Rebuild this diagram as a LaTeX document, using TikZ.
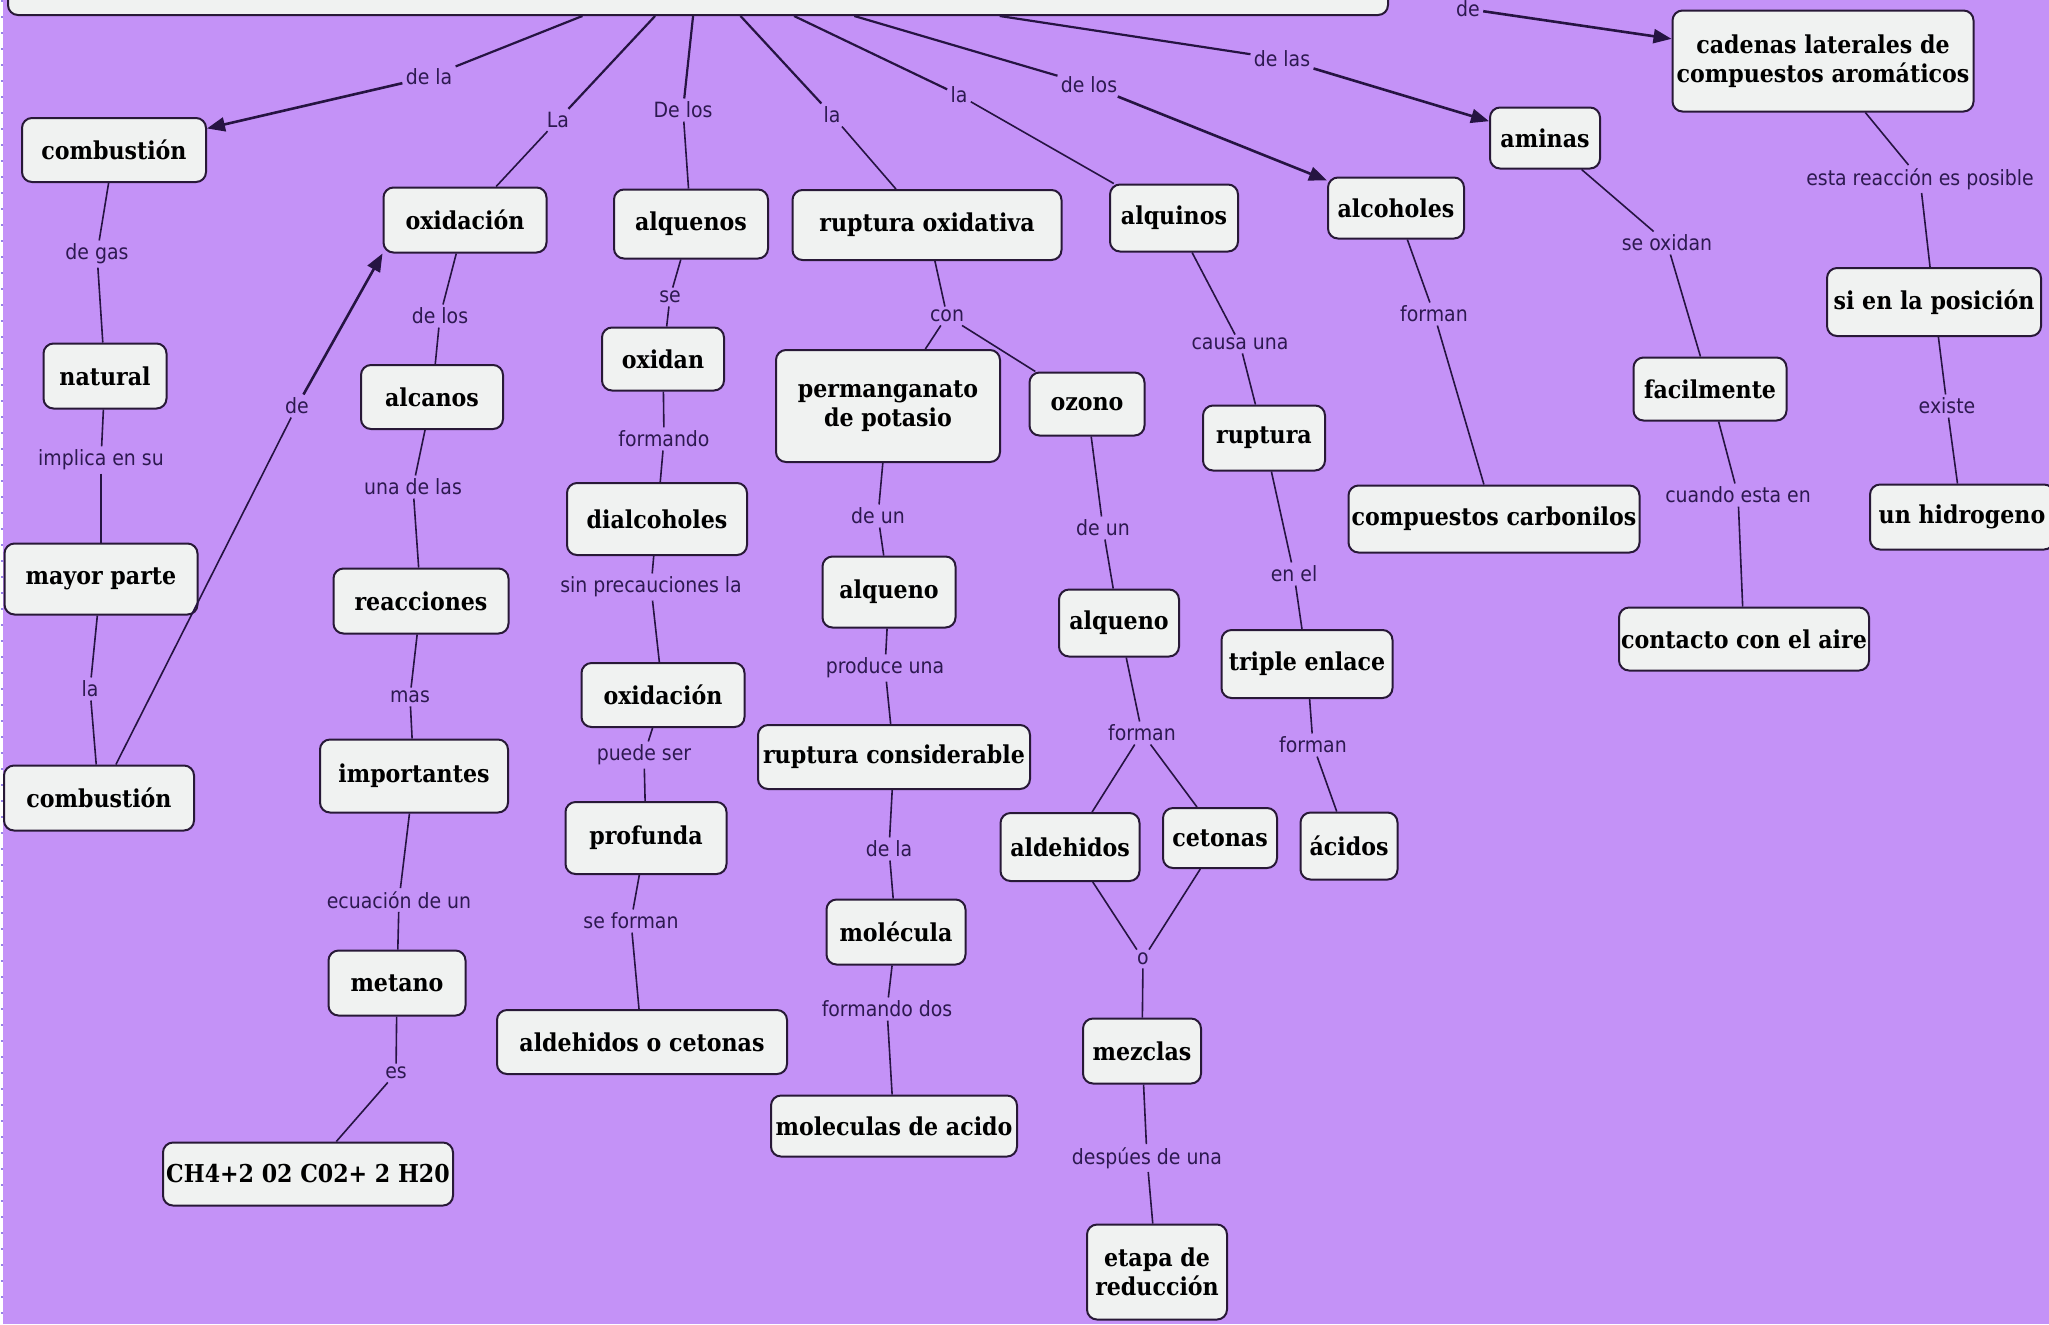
\documentclass[tikz,border=0pt]{standalone}
\usepackage{fontspec}
\newfontfamily\nodefont{DejaVu Serif Condensed}[BoldFont={* Bold}]
\newfontfamily\labfont{DejaVu Sans Condensed}
\usetikzlibrary{arrows.meta}
\definecolor{bgcol}{RGB}{196,146,247}
\definecolor{nodefill}{RGB}{240,242,241}
\definecolor{nodeborder}{RGB}{40,25,55}
\definecolor{linecol}{RGB}{38,20,66}
\definecolor{labcol}{RGB}{45,25,80}
\tikzset{
  nb/.style={draw=nodeborder, line width=1pt, fill=nodefill, rounded corners=5pt,
    font=\nodefont\bfseries\fontsize{12.3}{14.3}\selectfont, inner sep=0pt, align=center},
  sz/.style 2 args={minimum width=#1*0.5pt, minimum height=#2*0.5pt},
  lab/.style={font=\labfont\fontsize{10.5}{12}\selectfont, text=labcol, inner sep=1.5pt},
  con/.style={draw=linecol, line width=0.8pt},
  rcon/.style={draw=linecol, line width=1.1pt},
  arr/.style={draw=linecol, line width=1.3pt, -{Triangle[length=9pt,width=7pt]}},
}
\begin{document}
\begin{tikzpicture}[x=0.5pt,y=-0.5pt]
\useasboundingbox (0,0) rectangle (2049,1324);
\fill[bgcol] (0,0) rectangle (2049,1324);
\fill[white] (0,0) rectangle (3,1324);
\draw[color={rgb,255:red,150;green,130;blue,230}, line width=1pt, dash pattern=on 1pt off 7pt] (2,0) -- (2,1324);
\begin{scope}
\clip (0,0) rectangle (2049,1324);
% root (cut off at top)
\node[nb, sz={1380}{90}] (root) at (698,-30) {};
% nodes
\node[nb, sz={184}{64}] (comb1) at (114,150) {combustión};
\node[nb, sz={163}{65}] (ox1) at (465,220) {oxidación};
\node[nb, sz={154}{69}] (alquenos) at (691,224) {alquenos};
\node[nb, sz={269}{70}] (rupox) at (927,225) {ruptura oxidativa};
\node[nb, sz={128}{67}] (alquinos) at (1174,218) {alquinos};
\node[nb, sz={136}{61}] (alcoholes) at (1396,208) {alcoholes};
\node[nb, sz={110}{61}] (aminas) at (1545,138) {aminas};
\node[nb, sz={301}{101}] (cadenas) at (1823,61) {cadenas laterales de\\compuestos aromáticos};
\node[nb, sz={123}{65}] (natural) at (105,376) {natural};
\node[nb, sz={142}{64}] (alcanos) at (432,397) {alcanos};
\node[nb, sz={122}{63}] (oxidan) at (663,359) {oxidan};
\node[nb, sz={224}{112}] (perm) at (888,406) {permanganato\\de potasio};
\node[nb, sz={115}{63}] (ozono) at (1087,404) {ozono};
\node[nb, sz={122}{65}] (ruptura) at (1264,438) {ruptura};
\node[nb, sz={291}{67}] (compcarb) at (1494,519) {compuestos carbonilos};
\node[nb, sz={153}{63}] (facil) at (1710,389) {facilmente};
\node[nb, sz={214}{68}] (sipos) at (1934,302) {si en la posición};
\node[nb, sz={184}{65}] (unhid) at (1962,517) {un hidrogeno};
\node[nb, sz={193}{71}] (mayor) at (101,579) {mayor parte};
\node[nb, sz={175}{65}] (reacc) at (421,601) {reacciones};
\node[nb, sz={180}{72}] (dialc) at (657,519) {dialcoholes};
\node[nb, sz={133}{71}] (alqueno1) at (889,592) {alqueno};
\node[nb, sz={120}{67}] (alqueno2) at (1119,623) {alqueno};
\node[nb, sz={171}{68}] (triple) at (1307,664) {triple enlace};
\node[nb, sz={250}{63}] (contacto) at (1744,639) {contacto con el aire};
\node[nb, sz={190}{65}] (comb2) at (99,798) {combustión};
\node[nb, sz={188}{73}] (import) at (414,776) {importantes};
\node[nb, sz={163}{64}] (ox2) at (663,695) {oxidación};
\node[nb, sz={272}{64}] (rupcons) at (894,757) {ruptura considerable};
\node[nb, sz={161}{72}] (profunda) at (646,838) {profunda};
\node[nb, sz={139}{68}] (aldeh) at (1070,847) {aldehidos};
\node[nb, sz={114}{60}] (cetonas) at (1220,838) {cetonas};
\node[nb, sz={97}{67}] (acidos) at (1349,846) {ácidos};
\node[nb, sz={137}{65}] (metano) at (397,983) {metano};
\node[nb, sz={290}{64}] (aldoceto) at (642,1042) {aldehidos o cetonas};
\node[nb, sz={139}{65}] (molecula) at (896,932) {molécula};
\node[nb, sz={118}{65}] (mezclas) at (1142,1051) {mezclas};
\node[nb, sz={246}{61}] (molacido) at (894,1126) {moleculas de acido};
\node[nb, sz={290}{63}] (ch4) at (308,1174) {CH4+2 02 C02+ 2 H20};
\node[nb, sz={140}{95}] (etapa) at (1157,1272) {etapa de\\reducción};
% labels
\node[lab] (l-dela) at (429,77) {de la};
\node[lab] (l-La) at (558,120) {La};
\node[lab] (l-Delos) at (683,110) {De los};
\node[lab] (l-la1) at (832,115) {la};
\node[lab] (l-la2) at (959,95) {la};
\node[lab] (l-delosr) at (1089,85) {de los};
\node[lab] (l-delas) at (1282,59) {de las};
\node[lab] (l-detop) at (1468,9) {de};
\node[lab] (l-degas) at (97,254) {de gas};
\node[lab] (l-implica) at (101,460) {implica en su};
\node[lab] (l-la3) at (90,689) {la};
\node[lab] (l-dec) at (297,406) {de};
\node[lab] (l-deloso) at (440,316) {de los};
\node[lab] (l-unadelas) at (413,487) {una de las};
\node[lab] (l-mas) at (410,697) {mas};
\node[lab] (l-ecuacion) at (399,900) {ecuación de un};
\node[lab] (l-es) at (396,1073) {es};
\node[lab] (l-se) at (670,297) {se};
\node[lab] (l-formando) at (664,439) {formando};
\node[lab] (l-sinprec) at (651,587) {sin precauciones la};
\node[lab] (l-puedeser) at (644,755) {puede ser};
\node[lab] (l-seforman) at (631,921) {se forman};
\node[lab] (l-con) at (947,316) {con};
\node[lab] (l-deun1) at (878,516) {de un};
\node[lab] (l-produce) at (885,668) {produce una};
\node[lab] (l-dela2) at (889,849) {de la};
\node[lab] (l-formandodos) at (887,1009) {formando dos};
\node[lab] (l-deun2) at (1103,528) {de un};
\node[lab] (l-forman1) at (1142,733) {forman};
\node[lab] (l-o) at (1143,959) {o};
\node[lab] (l-despues) at (1147,1158) {despúes de una};
\node[lab] (l-causa) at (1240,344) {causa una};
\node[lab] (l-enel) at (1294,574) {en el};
\node[lab] (l-forman2) at (1313,745) {forman};
\node[lab] (l-forman3) at (1434,314) {forman};
\node[lab] (l-seoxidan) at (1667,243) {se oxidan};
\node[lab] (l-cuando) at (1738,495) {cuando esta en};
\node[lab] (l-esta) at (1920,179) {esta reacción es posible};
\node[lab] (l-existe) at (1947,406) {existe};
% connectors from root
\draw[rcon] (root) -- (l-dela);
\draw[arr] (l-dela) -- (comb1);
\draw[rcon] (root) -- (l-La);
\draw[con] (l-La) -- (ox1);
\draw[rcon] (root) -- (l-Delos);
\draw[con] (l-Delos) -- (alquenos);
\draw[rcon] (root) -- (l-la1);
\draw[con] (l-la1) -- (rupox);
\draw[rcon] (root) -- (l-la2);
\draw[con] (l-la2) -- (alquinos);
\draw[rcon] (root) -- (l-delosr);
\draw[arr] (l-delosr) -- (alcoholes);
\draw[rcon] (root) -- (l-delas);
\draw[arr] (l-delas) -- (aminas);
\draw[arr] (l-detop) -- (cadenas);
% left column
\draw[con] (comb1) -- (l-degas);
\draw[con] (l-degas) -- (natural);
\draw[con] (natural) -- (l-implica);
\draw[con] (l-implica) -- (mayor);
\draw[con] (mayor) -- (l-la3);
\draw[con] (l-la3) -- (comb2);
\draw[con] (comb2) -- (l-dec);
\draw[arr] (l-dec) -- (ox1.south west);
% alcanos column
\draw[con] (ox1) -- (l-deloso);
\draw[con] (l-deloso) -- (alcanos);
\draw[con] (alcanos) -- (l-unadelas);
\draw[con] (l-unadelas) -- (reacc);
\draw[con] (reacc) -- (l-mas);
\draw[con] (l-mas) -- (import);
\draw[con] (import) -- (l-ecuacion);
\draw[con] (l-ecuacion) -- (metano);
\draw[con] (metano) -- (l-es);
\draw[con] (l-es) -- (ch4);
% alquenos column
\draw[con] (alquenos) -- (l-se);
\draw[con] (l-se) -- (oxidan);
\draw[con] (oxidan) -- (l-formando);
\draw[con] (l-formando) -- (dialc);
\draw[con] (dialc) -- (l-sinprec);
\draw[con] (l-sinprec) -- (ox2);
\draw[con] (ox2) -- (l-puedeser);
\draw[con] (l-puedeser) -- (profunda);
\draw[con] (profunda) -- (l-seforman);
\draw[con] (l-seforman) -- (aldoceto);
% ruptura oxidativa
\draw[con] (rupox) -- (l-con);
\draw[con] (l-con) -- (perm);
\draw[con] (l-con) -- (ozono);
\draw[con] (perm) -- (l-deun1);
\draw[con] (l-deun1) -- (alqueno1);
\draw[con] (alqueno1) -- (l-produce);
\draw[con] (l-produce) -- (rupcons);
\draw[con] (rupcons) -- (l-dela2);
\draw[con] (l-dela2) -- (molecula);
\draw[con] (molecula) -- (l-formandodos);
\draw[con] (l-formandodos) -- (molacido);
\draw[con] (ozono) -- (l-deun2);
\draw[con] (l-deun2) -- (alqueno2);
\draw[con] (alqueno2) -- (l-forman1);
\draw[con] (l-forman1) -- (aldeh);
\draw[con] (l-forman1) -- (cetonas);
\draw[con] (aldeh) -- (l-o);
\draw[con] (cetonas) -- (l-o);
\draw[con] (l-o) -- (mezclas);
\draw[con] (mezclas) -- (l-despues);
\draw[con] (l-despues) -- (etapa);
% alquinos
\draw[con] (alquinos) -- (l-causa);
\draw[con] (l-causa) -- (ruptura);
\draw[con] (ruptura) -- (l-enel);
\draw[con] (l-enel) -- (triple);
\draw[con] (triple) -- (l-forman2);
\draw[con] (l-forman2) -- (acidos);
% alcoholes
\draw[con] (alcoholes) -- (l-forman3);
\draw[con] (l-forman3) -- (compcarb);
% aminas
\draw[con] (aminas) -- (l-seoxidan);
\draw[con] (l-seoxidan) -- (facil);
\draw[con] (facil) -- (l-cuando);
\draw[con] (l-cuando) -- (contacto);
% cadenas
\draw[con] (cadenas) -- (l-esta);
\draw[con] (l-esta) -- (sipos);
\draw[con] (sipos) -- (l-existe);
\draw[con] (l-existe) -- (unhid);
\end{scope}
\end{tikzpicture}
\end{document}
